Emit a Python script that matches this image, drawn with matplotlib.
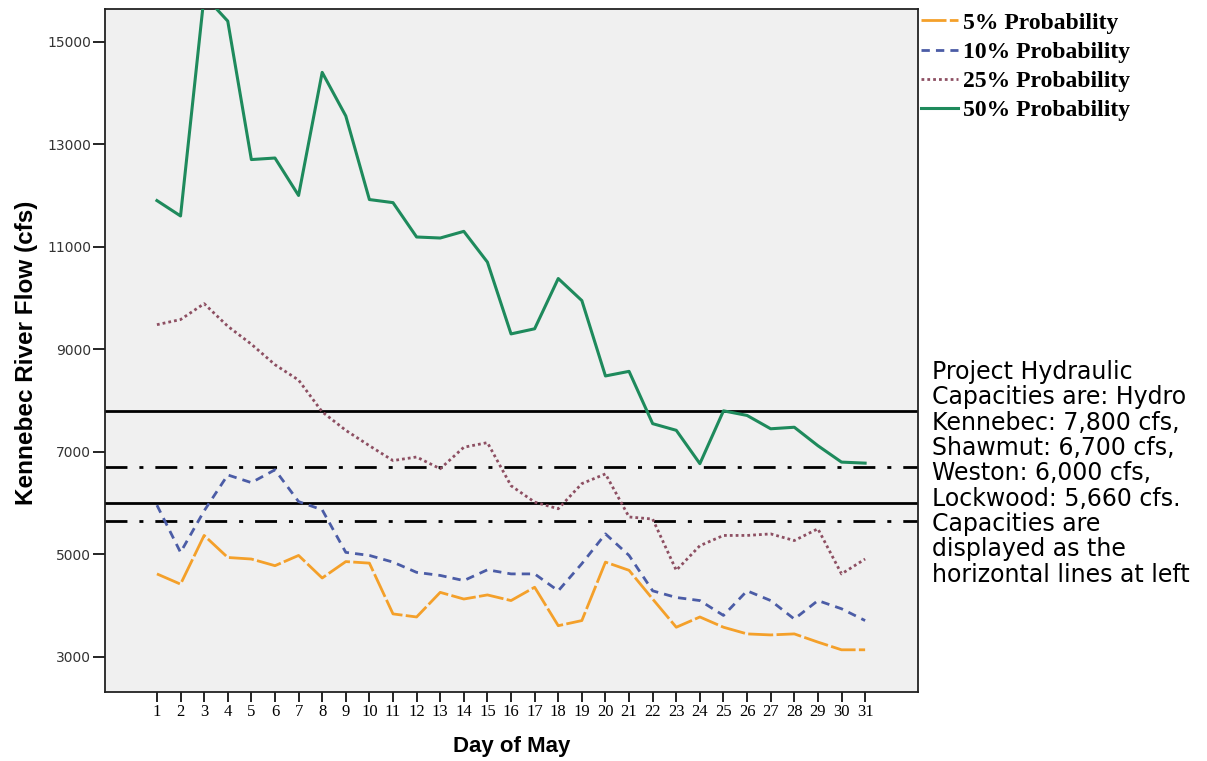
#!/usr/bin/env python3
"""Kennebec River flow exceedance curves for May, with project hydraulic capacities."""

import matplotlib
matplotlib.use("Agg")
import matplotlib.pyplot as plt

DAYS = list(range(1, 32))

P5 = [4620, 4420, 5370, 4940, 4910, 4780, 4980, 4540, 4860, 4830,
      3840, 3780, 4260, 4130, 4210, 4100, 4360, 3610, 3710, 4850,
      4690, 4130, 3580, 3780, 3580, 3450, 3430, 3450, 3290, 3140, 3140]
P10 = [5960, 5040, 5850, 6550, 6400, 6650, 6030, 5870, 5040, 4980,
       4850, 4650, 4590, 4490, 4700, 4620, 4620, 4290, 4820, 5400,
       4980, 4290, 4160, 4100, 3810, 4290, 4100, 3740, 4100, 3940, 3710]
P25 = [9480, 9580, 9890, 9450, 9100, 8700, 8400, 7780, 7420, 7120,
       6830, 6900, 6670, 7090, 7180, 6340, 6020, 5890, 6380, 6570,
       5730, 5690, 4690, 5170, 5370, 5370, 5400, 5270, 5500, 4620, 4910]
P50 = [11900, 11600, 15900, 15400, 12700, 12730, 12000, 14400, 13550, 11920,
       11860, 11190, 11170, 11300, 10700, 9300, 9400, 10380, 9950, 8480,
       8570, 7550, 7420, 6770, 7800, 7710, 7450, 7480, 7120, 6800, 6780]

SERIES_LABELS = ["5% Probability", "10% Probability", "25% Probability", "50% Probability"]

# capacities (cfs): Hydro Kennebec, Shawmut, Weston, Lockwood
CAPACITIES = [7800, 6700, 6000, 5660]
CAP_STYLES = ["solid", "dashdot", "solid", "dashdot"]

Y_TICKS = [3000, 5000, 7000, 9000, 11000, 13000, 15000]

NOTE = ("Project Hydraulic\nCapacities are: Hydro\nKennebec: 7,800 cfs,\n"
        "Shawmut: 6,700 cfs,\nWeston: 6,000 cfs,\nLockwood: 5,660 cfs.\n"
        "Capacities are\ndisplayed as the\nhorizontal lines at left")

W, H = 1207, 761
fig = plt.figure(figsize=(W / 100, H / 100), dpi=100)
ax = fig.add_axes([105 / W, 1 - 692 / H, (918 - 105) / W, (692 - 9) / H])
ax.set_facecolor("#f0f0f0")

for cap, style in zip(CAPACITIES, CAP_STYLES):
    if style == "solid":
        ax.axhline(cap, color="black", lw=2.0, zorder=2)
    else:
        ax.axhline(cap, color="black", lw=2.0, dashes=(7.9, 4.3, 1.45, 4.3), zorder=2)

ax.plot(DAYS, P5, color="#f4a02a", lw=2.0, dashes=(9, 1.2), label=SERIES_LABELS[0], zorder=3)
ax.plot(DAYS, P10, color="#4b5ca6", lw=2.0, dashes=(3.0, 2.2), label=SERIES_LABELS[1], zorder=3)
ax.plot(DAYS, P25, color="#8d4f62", lw=2.0, dashes=(1.0, 1.1), label=SERIES_LABELS[2], zorder=3)
ax.plot(DAYS, P50, color="#1e8a5c", lw=2.2, label=SERIES_LABELS[3], zorder=3)

ax.set_xlim(-1.2, 33.24)
ax.set_ylim(2317, 15636)
ax.set_xticks(DAYS)
ax.set_xticklabels([str(d) for d in DAYS], fontfamily="Liberation Serif", fontsize=12)
ax.set_yticks(Y_TICKS)
ax.set_yticklabels([str(v) for v in Y_TICKS], fontfamily="DejaVu Sans", fontsize=10, color="#333333")
ax.tick_params(axis="x", direction="out", length=7, width=1.2, pad=2)
ax.tick_params(axis="y", direction="out", length=9, width=1.2, pad=1)

for side in ["left", "right", "top", "bottom"]:
    ax.spines[side].set_color("#222222")
    ax.spines[side].set_linewidth(1.3)

ax.set_xlabel("Day of May", fontfamily="Liberation Sans", fontweight="bold", fontsize=16)
ax.xaxis.set_label_coords(0.5006, -0.064)
ax.set_ylabel("Kennebec River Flow (cfs)", fontfamily="Liberation Sans", fontweight="bold", fontsize=17.5)
ax.yaxis.set_label_coords(-0.083, 0.497)

leg = fig.legend(loc="upper left", bbox_to_anchor=(921 / W, 1 - 12 / H), frameon=False,
                 prop={"family": "Liberation Serif", "weight": "bold", "size": 17},
                 handlelength=1.57, handletextpad=0.2, labelspacing=0.33,
                 borderaxespad=0, borderpad=0)

fig.text(932 / W, 1 - 360 / H, NOTE, fontfamily="DejaVu Sans", fontsize=17,
         va="top", ha="left", linespacing=1.07, color="black")

fig.savefig("out.png", dpi=100)
